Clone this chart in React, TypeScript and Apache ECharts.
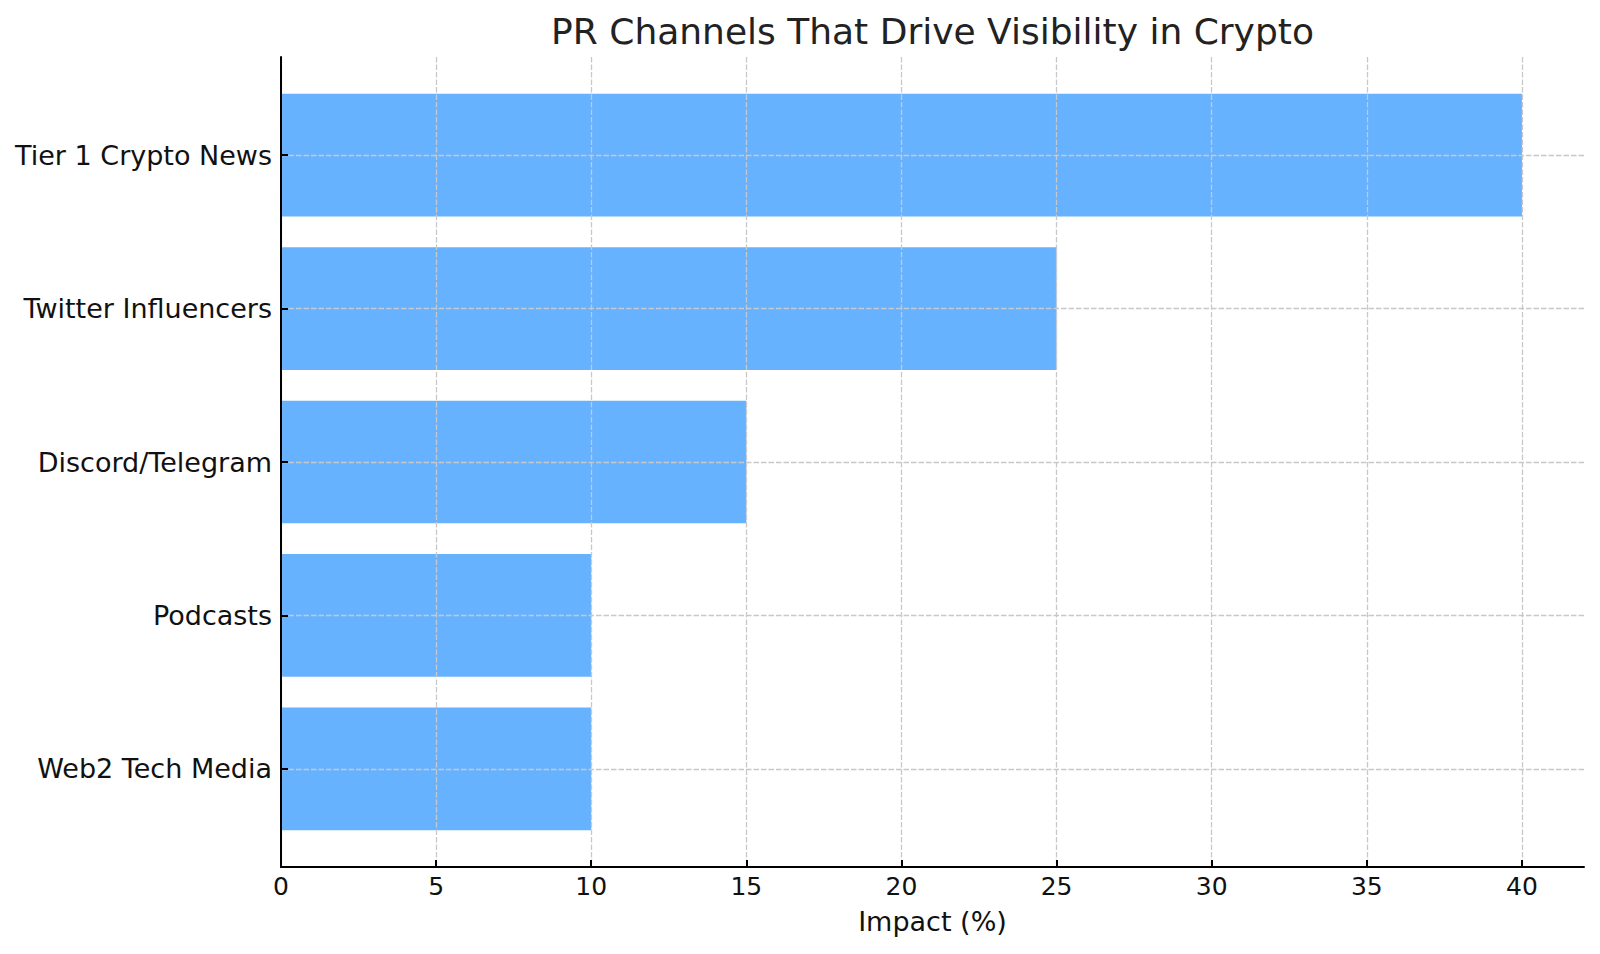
import React, { useEffect, useRef } from "react";
import * as echarts from "echarts";

const categories = [
  "Tier 1 Crypto News",
  "Twitter Influencers",
  "Discord/Telegram",
  "Podcasts",
  "Web2 Tech Media",
];
const impact = [40, 25, 15, 10, 10];
const xTicks = [0, 5, 10, 15, 20, 25, 30, 35, 40];
const chartTitle = "PR Channels That Drive Visibility in Crypto";
const xName = "Impact (%)";

export default function App() {
  const ref = useRef<HTMLDivElement>(null);
  useEffect(() => {
    const chart = echarts.init(ref.current!, undefined, { renderer: "svg" });
    const font = "'DejaVu Sans', sans-serif";
    const yPositions = categories.map((_, i) => i);
    const grid = { color: "#c8c8c8", type: [5.5, 2], width: 1.3 };
    const spine = { color: "#000", width: 2 };
    chart.setOption({
      animation: false,
      backgroundColor: "#ffffff",
      textStyle: { fontFamily: font },
      graphic: [
        {
          type: "text",
          x: 932.5,
          y: 31.5,
          style: {
            text: chartTitle,
            fontSize: 36,
            fontFamily: font,
            fill: "#222",
            align: "center",
            verticalAlign: "middle",
          },
        },
      ],
      grid: { left: 281, right: 16, top: 57, bottom: 87 },
      xAxis: {
        type: "value",
        min: 0,
        max: 42,
        z: 5,
        name: xName,
        nameLocation: "middle",
        nameGap: 41,
        nameTextStyle: { fontSize: 27, color: "#111", fontFamily: font },
        axisLine: { show: true, onZero: false, lineStyle: spine },
        axisTick: { show: true, inside: true, length: 7, customValues: xTicks, lineStyle: spine },
        axisLabel: { customValues: xTicks, fontSize: 25, color: "#111", margin: 7, fontFamily: font },
        splitLine: { show: true, lineStyle: grid },
      },
      yAxis: {
        type: "value",
        inverse: true,
        min: -0.64,
        max: 4.64,
        z: 5,
        axisLine: { show: true, onZero: false, lineStyle: spine },
        axisTick: { show: true, inside: true, length: 7, customValues: yPositions, lineStyle: spine },
        axisLabel: {
          customValues: yPositions,
          fontSize: 27,
          color: "#111",
          margin: 9,
          fontFamily: font,
          formatter: (v: number) => categories[Math.round(v)] ?? "",
        },
        splitLine: { show: true, lineStyle: grid },
      },
      series: [
        {
          type: "custom",
          z: 2,
          encode: { x: 0, y: 1 },
          data: impact.map((v, i) => [v, i]),
          renderItem: (params: any, api: any) => {
            const v = api.value(0);
            const idx = api.value(1);
            const start = api.coord([0, idx]);
            const end = api.coord([v, idx]);
            const h = api.size([0, 0.8])[1];
            return {
              type: "rect",
              shape: { x: start[0], y: start[1] - h / 2, width: end[0] - start[0], height: h },
              style: { fill: "#66b2ff" },
            };
          },
        },
      ],
    });
    return () => chart.dispose();
  }, []);
  return (
    <div
      ref={ref}
      style={{ position: "fixed", left: 0, top: 0, width: 1600, height: 954 }}
    />
  );
}
